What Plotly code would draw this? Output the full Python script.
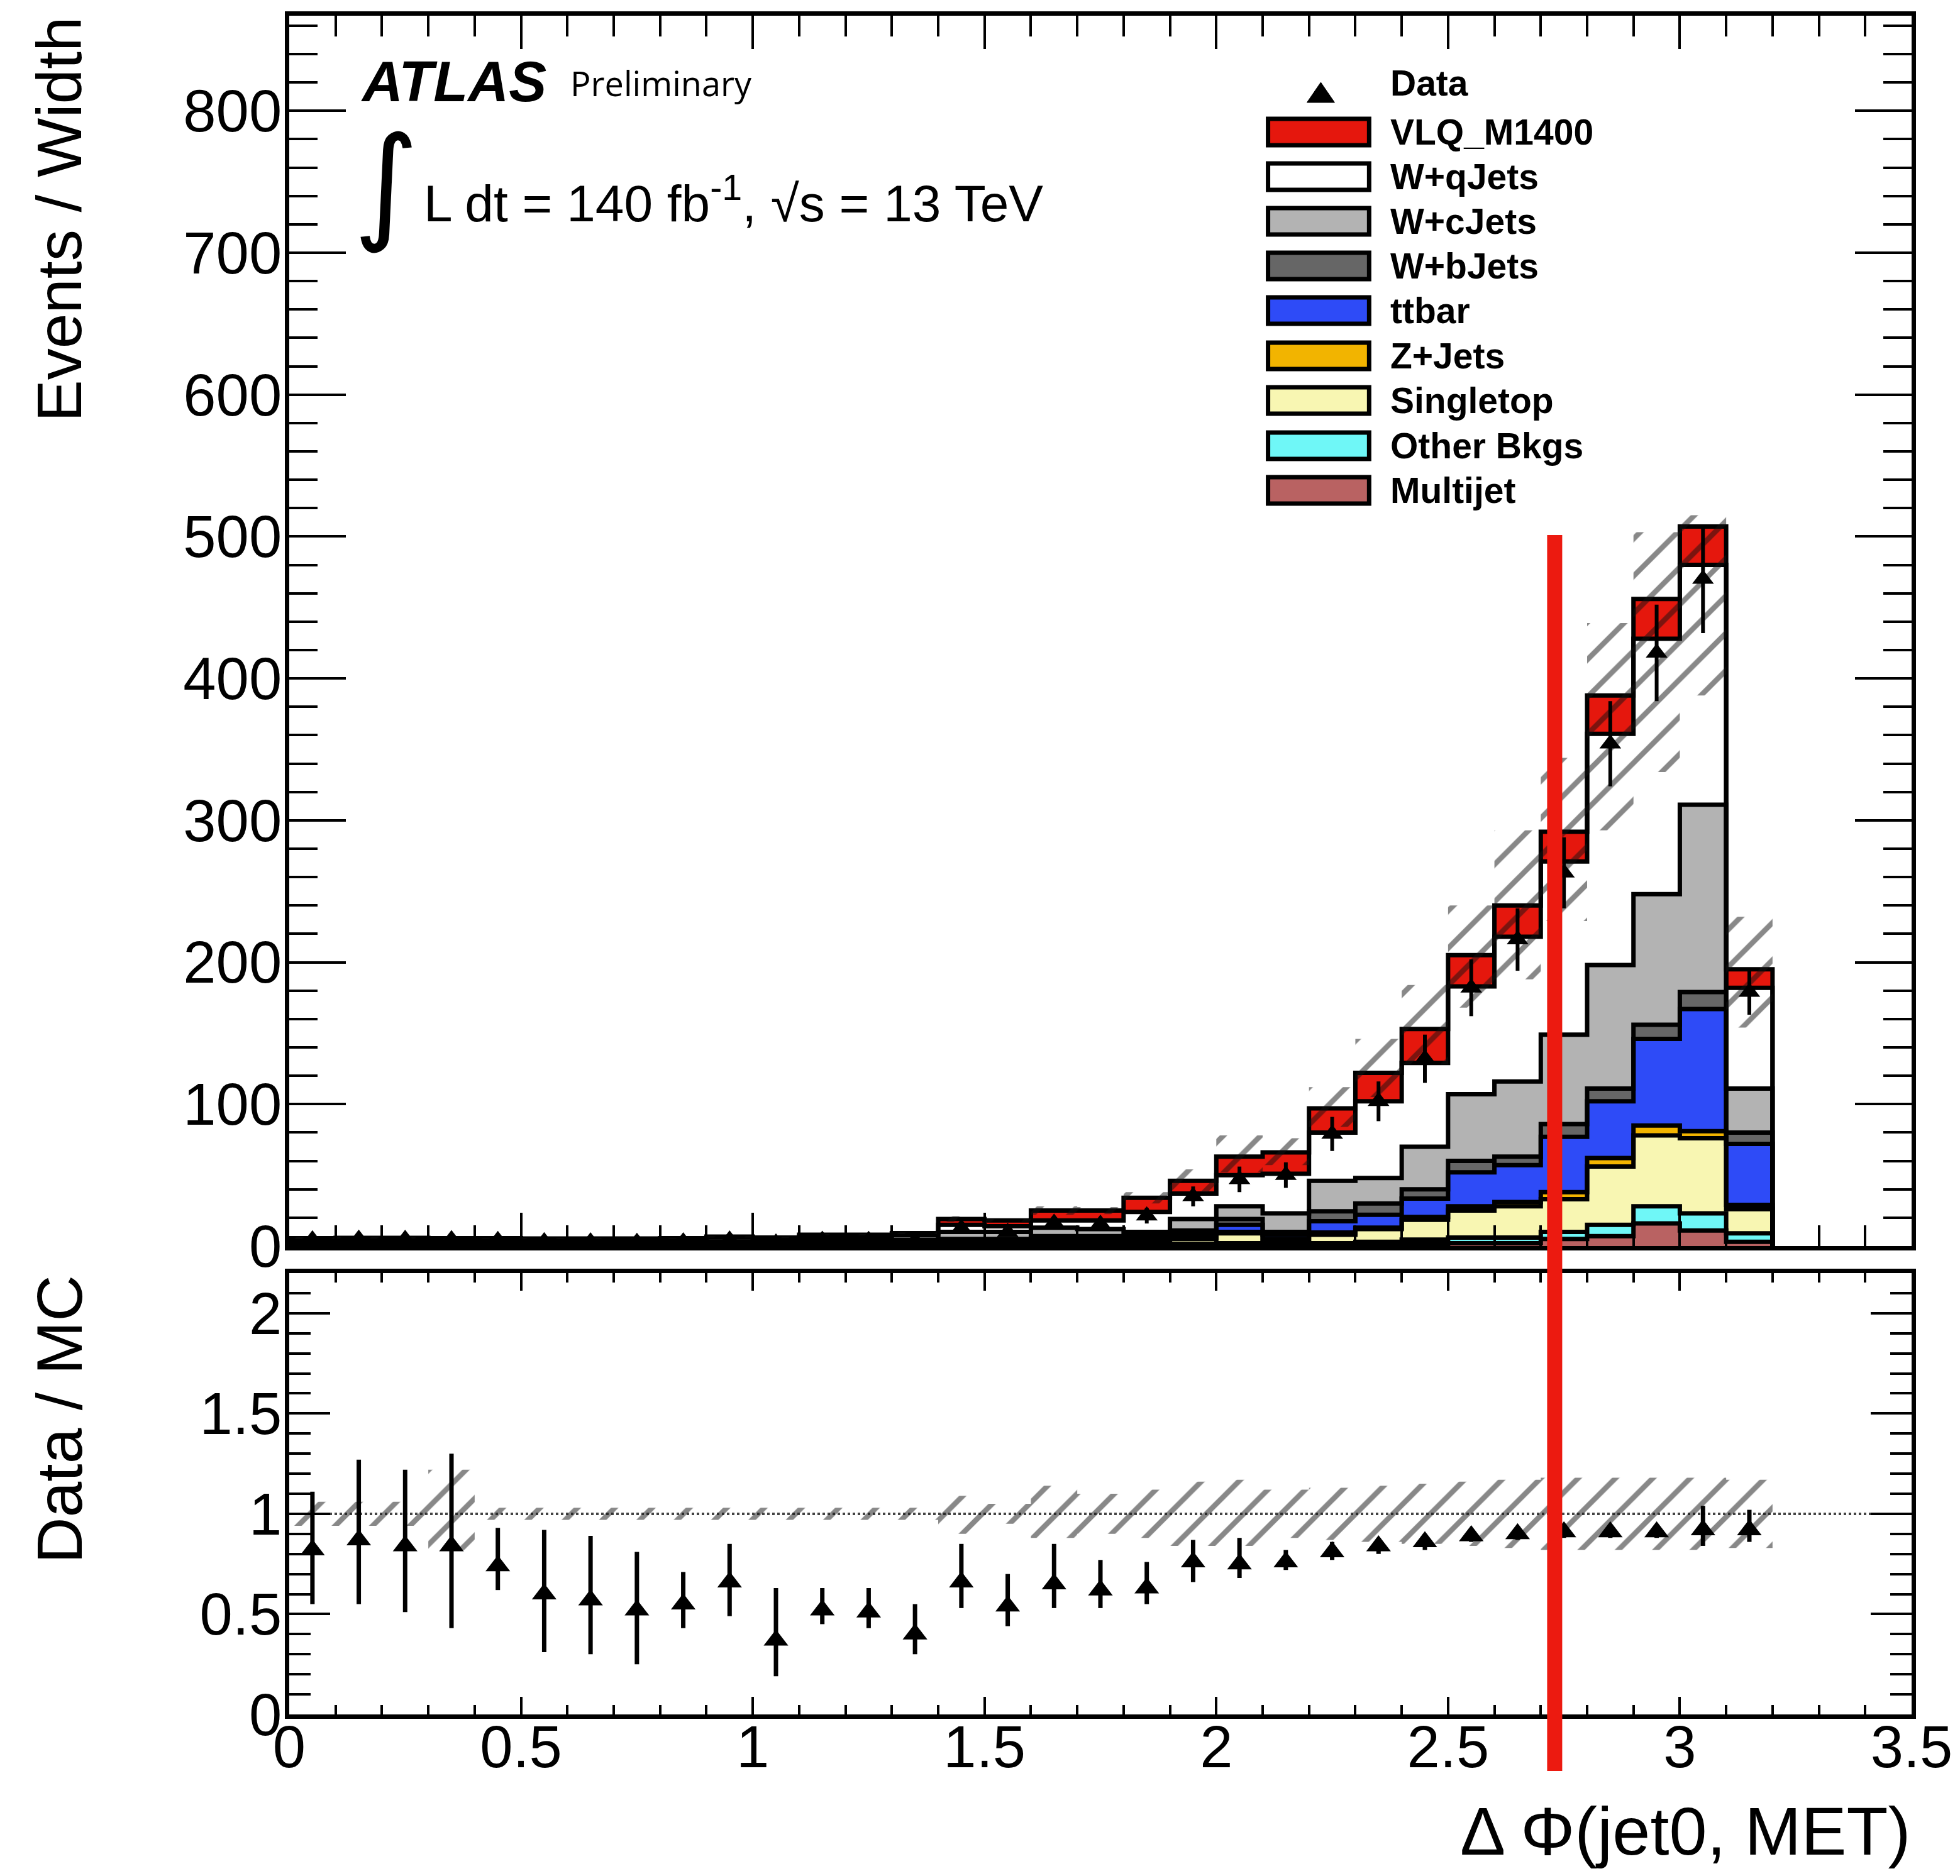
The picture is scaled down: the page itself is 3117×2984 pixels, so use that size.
import plotly.graph_objects as go
import numpy as np

# ---------------- data ----------------
bin_lo = [0.0, 0.1, 0.2, 0.3, 0.4, 0.5, 0.6, 0.7, 0.8, 0.9, 1.0, 1.1, 1.2, 1.3, 1.4, 1.5,
          1.6, 1.7, 1.8, 1.9, 2.0, 2.1, 2.2, 2.3, 2.4, 2.5, 2.6, 2.7, 2.8, 2.9, 3.0, 3.1]
BIN_W = 0.1

multijet = [0.0, 0.0, 0.0, 0.0, 0.0, 0.0, 0.0, 0.0, 0.0, 0.0, 0.0, 0.0, 0.0, 0.0, 0.2, 0.2,
            0.2, 0.2, 0.5, 0.5, 0.5, 0.5, 0.5, 1.0, 1.5, 2.0, 2.0, 5.0, 7.0, 16.0, 11.0, 3.0]
other_bkgs = [0.1, 0.1, 0.1, 0.1, 0.1, 0.1, 0.1, 0.1, 0.1, 0.1, 0.1, 0.1, 0.1, 0.1, 0.3, 0.3,
              0.3, 0.3, 0.5, 1.0, 1.5, 1.0, 1.5, 2.0, 3.0, 4.0, 4.0, 5.0, 8.0, 12.0, 12.0, 6.0]
singletop = [0.3, 0.3, 0.3, 0.3, 0.3, 0.3, 0.3, 0.3, 0.3, 0.3, 0.3, 0.5, 0.5, 0.6, 1.0, 1.0,
             2.0, 2.0, 2.0, 3.5, 7.0, 3.0, 6.0, 9.0, 14.0, 19.0, 22.0, 23.0, 41.0, 50.0, 53.0, 17.0]
zjets = [0.3, 0.3, 0.3, 0.3, 0.3, 0.2, 0.2, 0.2, 0.2, 0.3, 0.3, 0.3, 0.3, 0.3, 0.5, 0.5,
         0.5, 0.5, 0.5, 1.0, 1.0, 0.5, 1.5, 1.0, 2.0, 3.0, 3.0, 5.0, 6.0, 7.0, 5.0, 3.0]
ttbar = [0.5, 0.5, 0.5, 0.5, 0.5, 0.5, 0.5, 0.5, 0.5, 0.6, 0.5, 0.8, 0.8, 0.9, 2.0, 2.0,
         2.5, 2.5, 2.0, 3.0, 5.0, 3.0, 8.0, 9.0, 13.0, 24.0, 26.0, 39.0, 40.0, 61.0, 86.0, 43.0]
wbjets = [0.3, 0.3, 0.3, 0.3, 0.3, 0.3, 0.3, 0.3, 0.3, 0.4, 0.3, 0.5, 0.5, 0.5, 1.0, 1.0,
          1.5, 1.5, 1.5, 2.0, 4.0, 2.0, 7.0, 8.0, 6.5, 8.0, 6.0, 9.0, 9.0, 10.0, 12.0, 8.0]
wcjets = [1.2, 1.3, 1.3, 1.2, 1.2, 1.2, 1.2, 1.2, 1.3, 1.5, 1.4, 1.8, 1.8, 2.0, 5.0, 5.0,
          6.0, 5.0, 3.0, 8.0, 9.0, 13.0, 21.5, 18.0, 30.0, 47.0, 53.0, 63.0, 87.0, 92.0, 132.0, 31.0]
wqjets = [2.4, 2.6, 2.6, 2.4, 2.4, 2.4, 2.4, 2.4, 2.4, 2.9, 2.6, 2.8, 2.8, 3.2, 5.0, 4.0,
          5.0, 6.0, 14.0, 18.0, 22.0, 28.0, 34.0, 54.0, 59.0, 76.0, 102.0, 122.0, 163.0, 180.0, 169.0, 71.0]
vlq_m1400 = [0.4, 0.4, 0.4, 0.4, 0.4, 0.3, 0.3, 0.3, 0.4, 0.6, 0.5, 1.2, 1.2, 1.5, 4.0, 4.0,
             7.0, 7.0, 10.0, 9.0, 13.0, 15.0, 17.0, 20.0, 24.0, 22.0, 22.0, 21.0, 27.0, 28.0, 27.0, 13.0]

data_vals = [4.5, 5.0, 4.9, 4.6, 4.1, 3.2, 3.1, 2.8, 3.1, 4.4, 2.3, 4.2, 4.1, 3.6, 12.5, 9.7,
             16.3, 15.5, 21.4, 35.0, 47.0, 50.0, 79.0, 102.0, 132.0, 182.0, 216.0, 263.0, 354.0, 418.0, 470.0, 179.0]
data_err = [1.5, 1.6, 1.6, 1.6, 1.3, 1.3, 1.3, 1.3, 1.0, 1.2, 1.2, 1.0, 1.0, 1.2, 3.5, 3.0,
            4.5, 4.0, 5.5, 7.0, 9.0, 9.0, 12.0, 14.0, 17.0, 20.0, 22.0, 25.0, 30.0, 34.0, 38.0, 16.0]

band_lo = [5.0, 5.3, 5.3, 4.4, 5.2, 5.0, 5.0, 5.0, 5.2, 6.1, 5.7, 7.6, 7.6, 8.5, 17.0, 17.0,
           22.0, 22.5, 30.0, 38.0, 52.0, 57.0, 84.0, 105.0, 128.0, 168.0, 188.0, 229.0, 293.0, 334.0, 388.0, 154.0]
band_hi = [6.2, 6.3, 6.3, 6.6, 5.8, 5.6, 5.6, 5.6, 5.8, 6.9, 6.3, 8.4, 8.4, 9.5, 21.0, 19.0,
           28.0, 27.5, 38.0, 54.0, 78.0, 76.0, 112.0, 146.0, 184.0, 240.0, 293.0, 344.0, 439.0, 503.0, 515.0, 232.0]

ratio_vals = [0.82, 0.87, 0.84, 0.84, 0.74, 0.60, 0.57, 0.52, 0.55, 0.66, 0.37, 0.52, 0.51, 0.40, 0.66, 0.54,
              0.65, 0.62, 0.63, 0.76, 0.75, 0.76, 0.81, 0.84, 0.86, 0.89, 0.90, 0.91, 0.91, 0.91, 0.92, 0.92]
ratio_err_up = [0.29, 0.40, 0.38, 0.46, 0.19, 0.32, 0.32, 0.29, 0.16, 0.19, 0.26, 0.11, 0.12, 0.15, 0.19, 0.16,
                0.20, 0.15, 0.13, 0.11, 0.13, 0.06, 0.05, 0.04, 0.04, 0.03, 0.03, 0.03, 0.03, 0.03, 0.12, 0.10]
ratio_err_dn = [0.27, 0.32, 0.33, 0.41, 0.12, 0.29, 0.27, 0.27, 0.12, 0.17, 0.18, 0.07, 0.08, 0.10, 0.13, 0.10,
                0.12, 0.09, 0.08, 0.10, 0.07, 0.04, 0.04, 0.04, 0.04, 0.03, 0.03, 0.03, 0.03, 0.03, 0.08, 0.06]
ratio_band_lo = [0.94, 0.94, 0.94, 0.82, 0.97, 0.97, 0.97, 0.97, 0.97, 0.97, 0.97, 0.97, 0.97, 0.97, 0.90, 0.95,
                 0.88, 0.90, 0.88, 0.84, 0.84, 0.88, 0.87, 0.86, 0.85, 0.84, 0.83, 0.82, 0.82, 0.82, 0.82, 0.83]
ratio_band_hi = [1.06, 1.06, 1.06, 1.22, 1.03, 1.03, 1.03, 1.03, 1.03, 1.03, 1.03, 1.03, 1.03, 1.03, 1.09, 1.05,
                 1.14, 1.10, 1.12, 1.16, 1.17, 1.12, 1.13, 1.14, 1.15, 1.16, 1.17, 1.18, 1.18, 1.18, 1.18, 1.17]

CUT = 2.73  # red cut line position

labels = ["Multijet", "Other Bkgs", "Singletop", "Z+Jets", "ttbar", "W+bJets", "W+cJets", "W+qJets", "VLQ_M1400"]
colors = ["#b96262", "#6ff7f7", "#f8f6b2", "#f2b400", "#2e4bf7", "#666666", "#b3b3b3", "#ffffff", "#e5170d"]
series = [multijet, other_bkgs, singletop, zjets, ttbar, wbjets, wcjets, wqjets, vlq_m1400]

# ---------------- geometry ----------------
W_FIG, H_FIG = 3117, 2984
L, R, T, B = 460, 3044, 25, 2727
MAIN_BOTTOM, RATIO_TOP = 1982, 2025


def px(X):
    return (X - L) / (R - L)


def py(Y):
    return (B - Y) / (B - T)


FONT = "Liberation Sans, Arial, Helvetica, sans-serif"

centers = np.array(bin_lo) + BIN_W / 2
right_edge = bin_lo[-1] + BIN_W

fig = go.Figure()

# stacked fills
cum = np.zeros(len(bin_lo))
levels = []
for vals, col in zip(series, colors):
    v = np.array(vals)
    fig.add_trace(go.Bar(x=centers, y=v, base=cum.copy(), width=BIN_W,
                         marker=dict(color=col, line=dict(width=0)),
                         xaxis="x", yaxis="y", showlegend=False, hoverinfo="skip"))
    cum = cum + v
    levels.append(cum.copy())

# step outlines of each cumulative level
for lev in levels:
    xs = [bin_lo[0]] + list(bin_lo) + [right_edge]
    ys = [0.0] + list(lev) + [0.0]
    fig.add_trace(go.Scatter(x=xs, y=ys, mode="lines", line=dict(color="black", width=7, shape="hv"),
                             xaxis="x", yaxis="y", showlegend=False, hoverinfo="skip"))


def band_polys(lo, hi):
    xs, ys = [], []
    for x0, a, b in zip(bin_lo, lo, hi):
        xs += [x0, x0 + BIN_W, x0 + BIN_W, x0, x0, None]
        ys += [a, a, b, b, a, None]
    return xs, ys


hatch = dict(shape="/", fgcolor="#111111", bgcolor="rgba(0,0,0,0)", size=42, solidity=0.2)

bx, byy = band_polys(band_lo, band_hi)
fig.add_trace(go.Scatter(x=bx, y=byy, mode="lines", fill="toself", fillcolor="rgba(0,0,0,0)",
                         fillpattern=hatch, line=dict(width=0, color="rgba(0,0,0,0)"),
                         xaxis="x", yaxis="y", showlegend=False, hoverinfo="skip"))

# data points in main panel
fig.add_trace(go.Scatter(x=centers, y=data_vals, mode="markers",
                         marker=dict(symbol="triangle-up", size=30, color="black"),
                         error_y=dict(type="data", array=data_err, thickness=6, width=0, color="black"),
                         cliponaxis=False, xaxis="x", yaxis="y", showlegend=False))

# ratio panel
fig.add_trace(go.Scatter(x=[0, 3.5], y=[1, 1], mode="lines",
                         line=dict(color="#444444", width=4, dash="dot"),
                         xaxis="x2", yaxis="y2", showlegend=False, hoverinfo="skip"))
rx, ry = band_polys(ratio_band_lo, ratio_band_hi)
fig.add_trace(go.Scatter(x=rx, y=ry, mode="lines", fill="toself", fillcolor="rgba(0,0,0,0)",
                         fillpattern=hatch, line=dict(width=0, color="rgba(0,0,0,0)"),
                         xaxis="x2", yaxis="y2", showlegend=False, hoverinfo="skip"))
fig.add_trace(go.Scatter(x=centers, y=ratio_vals, mode="markers",
                         marker=dict(symbol="triangle-up", size=34, color="black"),
                         error_y=dict(type="data", symmetric=False, array=ratio_err_up,
                                      arrayminus=ratio_err_dn, thickness=7, width=0, color="black"),
                         cliponaxis=False, xaxis="x2", yaxis="y2", showlegend=False))

axis_common = dict(showline=True, linewidth=7, linecolor="black", mirror="ticks", ticks="inside",
                   tickwidth=4, tickcolor="black", showgrid=False, zeroline=False,
                   tickfont=dict(family=FONT, size=94, color="black"))

fig.update_layout(
    width=W_FIG, height=H_FIG,
    margin=dict(l=L, r=W_FIG - R, t=T, b=H_FIG - B, pad=0),
    paper_bgcolor="white", plot_bgcolor="white",
    barmode="overlay", bargap=0,
    showlegend=False,
    xaxis=dict(domain=[0, 1], anchor="y", range=[0, 3.5], dtick=0.5, ticklen=53, showticklabels=False,
               minor=dict(dtick=0.1, ticklen=33, tickwidth=4, ticks="inside", tickcolor="black"),
               **axis_common),
    yaxis=dict(domain=[py(MAIN_BOTTOM), 1], anchor="x", range=[0, 867], dtick=100, ticklen=90,
               minor=dict(dtick=20, ticklen=45, tickwidth=4, ticks="inside", tickcolor="black"),
               ticklabelstandoff=-14, **axis_common),
    xaxis2=dict(domain=[0, 1], anchor="y2", range=[0, 3.5], dtick=0.5, ticklen=28,
                minor=dict(dtick=0.1, ticklen=15, tickwidth=4, ticks="inside", tickcolor="black"),
                ticklabelstandoff=-36, **axis_common),
    yaxis2=dict(domain=[0, py(RATIO_TOP)], anchor="x2", range=[0, 2.2],
                tickvals=[0, 0.5, 1, 1.5, 2], ticktext=["0", "0.5", "1", "1.5", "2"], ticklen=65,
                minor=dict(dtick=0.1, ticklen=34, tickwidth=4, ticks="inside", tickcolor="black"),
                ticklabelstandoff=-14, **axis_common),
)

shapes = []
# red cut line spanning both panels
shapes.append(dict(type="line", xref="x", yref="paper", x0=CUT, x1=CUT, y0=py(2817), y1=py(851),
                   line=dict(color="#ec1a10", width=24), layer="above"))

annotations = []
# axis titles
annotations.append(dict(text="Events / Width", xref="paper", yref="paper", x=px(94), y=py(24),
                        xanchor="center", yanchor="top", textangle=-90, showarrow=False,
                        font=dict(family=FONT, size=100, color="black")))
annotations.append(dict(text="Data / MC", xref="paper", yref="paper", x=px(94), y=py(2026),
                        xanchor="center", yanchor="top", textangle=-90, showarrow=False,
                        font=dict(family=FONT, size=102, color="black")))
annotations.append(dict(text="\u0394 \u03a6(jet0, MET)", xref="paper", yref="paper", x=1.0, y=py(2975),
                        xanchor="right", yanchor="bottom", showarrow=False,
                        font=dict(family=FONT, size=108, color="black")))
# ATLAS labels
annotations.append(dict(text="<b><i>ATLAS</i></b>", xref="paper", yref="paper", x=px(572), y=py(130),
                        xanchor="left", yanchor="middle", showarrow=False,
                        font=dict(family=FONT, size=90, color="black")))
annotations.append(dict(text="Preliminary", xref="paper", yref="paper", x=px(906), y=py(132),
                        xanchor="left", yanchor="middle", showarrow=False,
                        font=dict(family="Open Sans, sans-serif", size=54, color="black")))
annotations.append(dict(text="\u222b", xref="paper", yref="paper", x=px(614), y=py(290),
                        xanchor="center", yanchor="middle", showarrow=False,
                        font=dict(family="DejaVu Sans, sans-serif", size=200, color="black")))
annotations.append(dict(text="L dt = 140 fb<sup>-1</sup>, \u221as = 13 TeV", xref="paper", yref="paper",
                        x=px(672), y=py(318), xanchor="left", yanchor="middle", showarrow=False,
                        font=dict(family=FONT, size=82, color="black")))

# legend (drawn manually)
BOX_X0, BOX_X1 = 2019, 2180
TEXT_X = 2212
row_y = [210, 281, 352, 423, 494, 566, 637, 709, 780]
leg_order = list(range(len(labels)))[::-1]  # VLQ first
for yc, idx in zip(row_y, leg_order):
    shapes.append(dict(type="rect", xref="paper", yref="paper",
                       x0=px(BOX_X0), x1=px(BOX_X1), y0=py(yc + 21), y1=py(yc - 21),
                       fillcolor=colors[idx], line=dict(color="black", width=7), layer="above"))
    annotations.append(dict(text="<b>" + labels[idx] + "</b>", xref="paper", yref="paper",
                            x=px(TEXT_X), y=py(yc), xanchor="left", yanchor="middle", showarrow=False,
                            font=dict(family=FONT, size=57, color="black")))
# Data legend entry
tx, ty = 2103, 148
shapes.append(dict(type="path", xref="paper", yref="paper",
                   path="M {a},{b} L {c},{d} L {e},{f} Z".format(
                       a=px(tx - 22), b=py(ty + 15), c=px(tx + 22), d=py(ty + 15), e=px(tx), f=py(ty - 17)),
                   fillcolor="black", line=dict(color="black", width=1), layer="above"))
annotations.append(dict(text="<b>Data</b>", xref="paper", yref="paper", x=px(TEXT_X), y=py(132),
                        xanchor="left", yanchor="middle", showarrow=False,
                        font=dict(family=FONT, size=57, color="black")))

fig.update_layout(shapes=shapes, annotations=annotations)
fig.write_html("out.html")
